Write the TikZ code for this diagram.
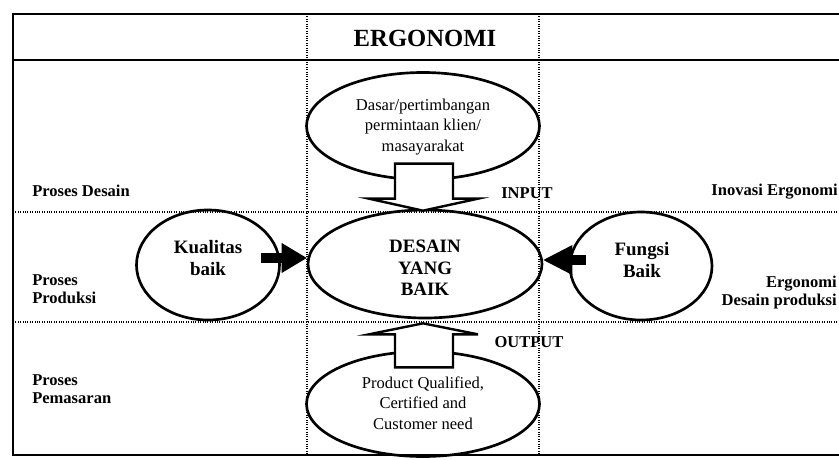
\documentclass[tikz,border=0pt]{standalone}
\usepackage{fontspec}
\setmainfont{Liberation Serif}
\usetikzlibrary{shapes.geometric,calc}
\begin{document}
\begin{tikzpicture}[x=0.75pt,y=-0.75pt,
  oval/.style={draw, ellipse, line width=2pt, inner sep=0pt},
  lbl/.style={font=\bfseries\fontsize{12.4}{13.5}\selectfont, inner sep=0pt},
  boldtxt/.style={font=\bfseries\fontsize{14.2}{16}\selectfont, inner sep=0pt, align=center},
  regtxt/.style={font=\fontsize{12.4}{15.4}\selectfont, inner sep=0pt, align=center},
  frameline/.style={line width=1.4pt},
  gridline/.style={densely dotted, line width=0.8pt},
  hollow/.style={draw, fill=white, line width=1.8pt, line join=miter},
  shaft/.style={line width=7pt}]
\useasboundingbox (0,0) rectangle (839,460);

% frame
\draw[frameline] (839,14) -- (13,14) -- (13,455) -- (839,455);
\draw[frameline] (13,60) -- (839,60);
\draw[gridline] (13,212) -- (839,212);
\draw[gridline] (13,322) -- (839,322);
\draw[gridline] (307,14) -- (307,455);
\draw[gridline] (539,14) -- (539,455);

\node[font=\bfseries\fontsize{18.5}{20}\selectfont, inner sep=0pt] (title) at (425,38) {ERGONOMI};

% row labels
\node[lbl, anchor=west] (pdesain) at (32,191) {Proses Desain};
\node[lbl, anchor=west, align=left] (pproduksi) at (32,289) {Proses\\Produksi};
\node[lbl, anchor=west, align=left] (ppemasaran) at (32,389) {Proses\\Pemasaran};
\node[lbl] (input) at (527,193) {INPUT};
\node[lbl] (output) at (529,342) {OUTPUT};
\node[lbl, anchor=east] (inovasi) at (838,192) {Inovasi Ergonomi};
\node[lbl, anchor=east, align=right] (ergdes) at (837,293) {Ergonomi\\Desain produksi};

% ellipses
\node[oval, minimum width=174.75pt, minimum height=80.25pt] (top) at (423,126) {};
\node[regtxt] (toptxt) at (423,127) {Dasar/pertimbangan\\permintaan klien/\\masayarakat};

\node[oval, minimum width=175.5pt, minimum height=81pt] (desain) at (425,264) {};
\node[boldtxt] (desaintxt) at (425,268) {DESAIN\\YANG\\BAIK};

\node[oval, minimum width=107.25pt, minimum height=82.5pt] (kual) at (208,265) {};
\node[boldtxt] (kualtxt) at (208,258) {Kualitas\\baik};

\node[oval, minimum width=106.5pt, minimum height=81pt] (fungsi) at (641,266) {};
\node[boldtxt] (fungsitxt) at (642,260) {Fungsi\\Baik};

\node[oval, minimum width=174.75pt, minimum height=78.75pt] (bottom) at (423,404) {};
\node[regtxt] (bottomtxt) at (423,403) {Product Qualified,\\Certified and\\Customer need};

% hollow block arrows
\coordinate (intip) at ($(desain.north)+(-2,2)$);
\draw[hollow] ($(intip)+(-28,-47)$) -- ($(intip)+(30,-47)$) -- ($(intip)+(30,-12)$)
  -- ($(intip)+(55,-12)$) -- (intip) -- ($(intip)+(-54,-12)$) -- ($(intip)+(-28,-12)$) -- cycle;

\coordinate (outtip) at ($(desain.south)+(-2,4)$);
\draw[hollow] ($(outtip)+(-28,44)$) -- ($(outtip)+(30,44)$) -- ($(outtip)+(30,11)$)
  -- ($(outtip)+(55,11)$) -- (outtip) -- ($(outtip)+(-54,11)$) -- ($(outtip)+(-28,11)$) -- cycle;

% solid arrows
\coordinate (ltip) at ($(desain.west)+(0,-6)$);
\draw[shaft] ($(kual.east)+(-20,-7)$) -- ($(ltip)+(-22,0)$);
\fill (ltip) -- ($(ltip)+(-25,-15)$) -- ($(ltip)+(-25,15)$) -- cycle;

\coordinate (rtip) at ($(desain.east)+(0,-4)$);
\draw[shaft] ($(fungsi.west)+(17,-6)$) -- ($(rtip)+(26,0)$);
\fill (rtip) -- ($(rtip)+(29,-15)$) -- ($(rtip)+(29,15)$) -- cycle;
\end{tikzpicture}
\end{document}
